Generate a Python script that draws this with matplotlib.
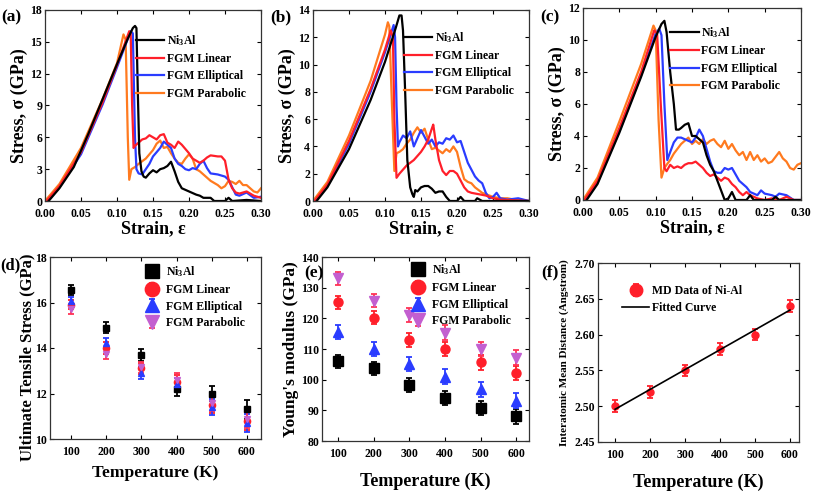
import numpy as np
import matplotlib
matplotlib.use("Agg")
import matplotlib.pyplot as plt

plt.rcParams['font.family'] = ['Liberation Serif', 'DejaVu Serif']
plt.rcParams['font.weight'] = 'bold'
plt.rcParams['axes.labelweight'] = 'bold'
plt.rcParams['mathtext.fontset'] = 'custom'
plt.rcParams['mathtext.rm'] = 'Liberation Serif:bold'
plt.rcParams['mathtext.bf'] = 'Liberation Serif:bold'
plt.rcParams['mathtext.it'] = 'Liberation Serif:bold'
plt.rcParams['mathtext.default'] = 'bf'

labels = ['Ni$_3$Al', 'FGM Linear', 'FGM Elliptical', 'FGM Parabolic']
colors = ['#000000', '#ff1f2a', '#2a3cff', '#ff7a1f']

# ---------------- (a) stress-strain ----------------
a_ni_x = [0.005,0.02,0.04,0.06,0.08,0.10,0.115,0.122,0.125,0.127,0.129,0.131,0.134,0.137,0.14,0.145,0.15,0.155,0.16,0.165,0.17,0.175,0.18,0.185,0.19,0.20,0.21,0.215,0.22,0.23,0.235,0.25,0.255,0.26,0.28,0.30]
a_ni_y = [0,1.2,3.2,6.3,9.6,12.9,15.3,16.3,16.5,16.3,10,4.5,2.8,2.3,2.2,2.6,2.9,2.7,3.0,3.1,3.3,3.7,2.8,1.8,1.2,0.9,0.6,0.5,0.3,0.3,0.0,0.0,0.3,0.0,0.1,0.0]
a_li_x = [0.002,0.02,0.05,0.08,0.10,0.117,0.119,0.121,0.123,0.125,0.13,0.135,0.14,0.145,0.15,0.155,0.16,0.165,0.17,0.175,0.18,0.185,0.19,0.195,0.20,0.205,0.21,0.215,0.22,0.225,0.23,0.24,0.245,0.25,0.255,0.26,0.265,0.27,0.28,0.29,0.30]
a_li_y = [0,1.4,4.6,9.3,12.8,16.0,15.8,9,5.0,5.2,5.5,5.8,5.9,6.2,6.0,5.8,6.2,6.3,5.5,5.3,5.0,5.6,5.3,4.9,4.5,4.0,3.8,3.6,3.8,4.1,4.3,4.2,4.2,3.8,2.0,1.2,0.8,0.7,0.9,0.5,0.3]
a_el_x = [0.004,0.02,0.05,0.08,0.10,0.119,0.122,0.125,0.127,0.13,0.135,0.14,0.145,0.15,0.155,0.16,0.165,0.17,0.175,0.18,0.185,0.19,0.195,0.20,0.205,0.21,0.215,0.22,0.225,0.23,0.24,0.25,0.255,0.26,0.265,0.27,0.28,0.29,0.30]
a_el_y = [0,1.3,4.4,9.1,12.6,16.0,15.8,6,3.0,2.6,2.5,3.0,3.5,4.2,4.6,5.0,5.6,5.3,5.0,4.0,3.5,3.3,3.0,2.9,3.1,3.0,3.5,3.8,3.1,2.6,2.5,2.3,2.0,1.3,0.6,0.5,0.8,0.3,0.4]
a_pa_x = [0.0,0.02,0.05,0.08,0.10,0.109,0.112,0.115,0.117,0.12,0.125,0.13,0.14,0.15,0.155,0.16,0.165,0.17,0.175,0.18,0.185,0.19,0.195,0.20,0.205,0.21,0.215,0.22,0.225,0.23,0.24,0.245,0.25,0.255,0.26,0.265,0.27,0.275,0.28,0.285,0.29,0.295,0.30]
a_pa_y = [0,1.6,5.0,9.6,13.0,15.7,15.2,6,2.0,3.0,3.2,3.5,4.0,4.8,5.4,5.7,5.0,5.1,4.5,4.0,3.6,3.5,4.0,4.4,4.0,3.0,2.8,2.5,2.2,1.9,1.5,1.2,1.4,1.9,1.8,1.6,1.9,1.5,1.5,1.2,0.9,0.8,1.2]

# ---------------- (b) stress-strain ----------------
b_ni_x = [0.005,0.02,0.05,0.08,0.10,0.115,0.12,0.123,0.125,0.128,0.131,0.135,0.138,0.14,0.142,0.145,0.15,0.155,0.16,0.165,0.17,0.175,0.18,0.185,0.19,0.20,0.205,0.21,0.225,0.228,0.235,0.30]
b_ni_y = [0,1.0,3.8,7.4,10.2,12.7,13.6,13.6,12.5,8,3,1.0,0.5,0.3,0.8,0.7,1.0,1.1,1.1,0.9,0.6,0.7,0.7,0.3,0.0,0.0,0.3,0.0,0.0,0.2,0.0,0.0]
b_li_x = [0.002,0.02,0.05,0.08,0.10,0.108,0.111,0.113,0.116,0.12,0.125,0.13,0.135,0.14,0.145,0.15,0.155,0.16,0.165,0.167,0.17,0.175,0.18,0.185,0.19,0.195,0.20,0.205,0.21,0.215,0.22,0.23,0.24,0.25,0.26,0.30]
b_li_y = [0,1.2,4.4,8.2,11.1,12.5,12.0,6,1.7,2.0,2.3,2.6,2.8,3.0,3.3,3.6,4.0,4.5,5.3,5.6,4.5,3.0,2.2,1.9,2.2,2.2,2.0,1.5,1.0,0.7,0.6,0.5,0.4,0.2,0.1,0.0]
b_el_x = [0.004,0.02,0.05,0.08,0.10,0.112,0.114,0.116,0.118,0.12,0.125,0.13,0.135,0.14,0.145,0.15,0.155,0.16,0.165,0.17,0.175,0.18,0.185,0.19,0.195,0.20,0.205,0.21,0.215,0.22,0.225,0.23,0.235,0.24,0.245,0.25,0.255,0.26,0.27,0.285,0.30]
b_el_y = [0,1.1,4.2,8.0,10.9,12.9,12.0,7,4.0,4.3,4.8,4.6,5.1,4.0,4.6,5.2,4.7,4.2,4.5,4.0,4.3,4.2,4.6,4.5,4.8,4.3,4.4,3.6,2.8,2.3,1.8,1.5,1.3,0.6,0.2,0.3,0.6,0.2,0.1,0.2,0.0]
b_pa_x = [0.0,0.02,0.05,0.08,0.10,0.104,0.106,0.109,0.113,0.116,0.12,0.125,0.13,0.135,0.14,0.145,0.15,0.155,0.16,0.165,0.17,0.175,0.18,0.185,0.19,0.195,0.20,0.205,0.21,0.215,0.22,0.225,0.23,0.235,0.24,0.25,0.26,0.27,0.28,0.30]
b_pa_y = [0,1.4,4.8,8.8,12.2,13.1,12.8,8,2.2,3.5,3.6,3.8,4.2,4.5,5.0,5.4,5.0,5.3,4.5,3.8,3.9,3.7,3.5,3.8,3.6,4.0,3.6,2.5,1.6,1.4,1.3,1.0,0.8,0.6,0.5,0.3,0.2,0.2,0.1,0.0]

# ---------------- (c) stress-strain ----------------
c_ni_x = [0.005,0.02,0.05,0.08,0.10,0.108,0.112,0.115,0.12,0.125,0.128,0.132,0.135,0.14,0.145,0.15,0.155,0.16,0.165,0.17,0.175,0.18,0.185,0.19,0.195,0.20,0.205,0.21,0.225,0.23,0.235,0.26,0.265,0.27,0.30]
c_ni_y = [0,1.0,4.2,7.7,10.2,11.0,11.2,10.5,8,6,4.4,4.4,4.5,4.7,4.8,4.0,4.0,3.8,3.6,2.8,2.2,1.8,1.2,0.6,0.0,0.1,0.5,0.0,0.0,0.3,0.0,0.0,0.2,0.0,0.0]
c_li_x = [0.002,0.02,0.05,0.08,0.098,0.102,0.107,0.112,0.115,0.12,0.125,0.13,0.135,0.14,0.145,0.15,0.155,0.16,0.165,0.17,0.175,0.18,0.185,0.19,0.195,0.20,0.205,0.21,0.215,0.22,0.225,0.23,0.24,0.25,0.26,0.27,0.28,0.29,0.30]
c_li_y = [0,1.2,4.5,8.0,10.6,10.4,6,2.0,1.8,2.2,2.0,2.1,2.0,2.2,2.3,2.3,2.4,2.2,2.0,1.7,1.5,1.6,1.4,1.2,1.4,1.3,1.0,0.8,0.5,0.3,0.5,0.3,0.1,0.0,0.1,0.0,0.2,0.0,0.0]
c_el_x = [0.004,0.02,0.05,0.08,0.10,0.105,0.108,0.112,0.116,0.12,0.125,0.13,0.135,0.14,0.145,0.15,0.155,0.16,0.165,0.17,0.175,0.18,0.185,0.19,0.195,0.20,0.205,0.21,0.215,0.22,0.225,0.23,0.235,0.24,0.245,0.25,0.26,0.265,0.27,0.28,0.29,0.30]
c_el_y = [0,1.1,4.3,7.8,10.4,10.7,10.3,6,2.5,3.0,3.6,3.9,3.9,3.8,3.7,3.6,3.9,4.4,4.0,3.2,2.4,1.8,1.7,1.7,2.0,1.9,2.0,1.6,1.2,1.0,0.8,0.5,0.4,0.3,0.6,0.4,0.3,0.2,0.4,0.3,0.0,0.0]
c_pa_x = [0.0,0.02,0.05,0.08,0.097,0.100,0.104,0.108,0.112,0.115,0.12,0.125,0.13,0.135,0.14,0.145,0.15,0.155,0.16,0.165,0.17,0.175,0.18,0.185,0.19,0.195,0.20,0.205,0.21,0.215,0.22,0.225,0.23,0.235,0.24,0.245,0.25,0.255,0.26,0.265,0.27,0.275,0.28,0.285,0.29,0.295,0.30]
c_pa_y = [0,1.4,4.9,8.5,10.9,10.6,5,1.4,2.0,2.2,2.5,2.9,3.2,3.5,3.7,3.9,3.5,3.7,3.5,3.8,3.5,3.7,3.8,3.5,3.3,3.7,3.2,3.5,3.1,2.8,3.0,2.5,3.0,2.5,2.8,2.4,2.6,2.3,2.4,2.7,3.0,2.6,2.4,2.0,1.9,2.2,2.3]

# ---------------- (d) UTS ----------------
temps = [100, 200, 300, 400, 500, 600]
uts_ni = [16.55, 14.9, 13.7, 12.2, 12.0, 11.3]
uts_li = [15.9, 14.0, 13.1, 12.5, 11.5, 10.8]
uts_el = [16.05, 14.2, 12.9, 12.4, 11.4, 10.7]
uts_pa = [15.7, 13.75, 13.15, 12.6, 11.6, 10.9]
uts_ni_err = [0.2, 0.25, 0.25, 0.3, 0.35, 0.4]
uts_li_err = [0.2, 0.25, 0.25, 0.3, 0.35, 0.4]
uts_el_err = [0.2, 0.25, 0.25, 0.3, 0.35, 0.4]
uts_pa_err = [0.2, 0.25, 0.25, 0.3, 0.35, 0.4]

# ---------------- (e) Young's modulus ----------------
ym_ni = [106.0, 103.7, 98.2, 94.0, 90.8, 88.0]
ym_li = [125.2, 120.2, 112.8, 110.0, 105.6, 102.2]
ym_el = [115.5, 110.0, 105.0, 101.0, 96.8, 93.2]
ym_pa = [133.0, 125.8, 121.0, 115.3, 110.0, 107.2]
ym_err = [2.2, 2.2, 2.3, 2.4, 2.4, 2.4]

# ---------------- (f) interatomic distance ----------------
dist = [2.50, 2.52, 2.55, 2.58, 2.60, 2.64]
dist_err = [0.008, 0.008, 0.008, 0.008, 0.008, 0.008]

W, H = 813, 491
fig = plt.figure(figsize=(W/100, H/100), dpi=100)

def ax_px(l, t, r, b):
    return fig.add_axes([l/W, 1-b/H, (r-l)/W, (b-t)/H])

def style(ax):
    ax.tick_params(direction='in', top=True, right=True, length=3, width=0.8,
                   labelsize=8.5)
    ax.tick_params(axis='x', pad=5)
    ax.tick_params(axis='y', pad=2)
    for s in ax.spines.values():
        s.set_linewidth(0.9)
        s.set_color('#333333')
    for t in ax.get_xticklabels() + ax.get_yticklabels():
        t.set_fontweight('bold')

axA = ax_px(45, 10, 261, 201)
axB = ax_px(313, 10, 529, 201)
axC = ax_px(583, 8, 801, 200)
axD = ax_px(50, 257, 261, 439)
axE = ax_px(322, 257, 529, 441)
axF = ax_px(598, 263, 799, 442)

curves = {
    axA: [(a_ni_x, a_ni_y), (a_li_x, a_li_y), (a_el_x, a_el_y), (a_pa_x, a_pa_y)],
    axB: [(b_ni_x, b_ni_y), (b_li_x, b_li_y), (b_el_x, b_el_y), (b_pa_x, b_pa_y)],
    axC: [(c_ni_x, c_ni_y), (c_li_x, c_li_y), (c_el_x, c_el_y), (c_pa_x, c_pa_y)],
}
ylims = {axA: (0, 18, 3), axB: (0, 14, 2), axC: (0, 12, 2)}
leg_anchor = {axA: (0.42, 0.88), axB: (0.42, 0.895), axC: (0.40, 0.91)}
order = [3, 2, 1, 0]
for ax, cl in curves.items():
    lines = [None]*4
    for i in order:
        x, y = cl[i]
        lines[i], = ax.plot(x, y, color=colors[i], lw=1.6, label=labels[i])
    lo, hi, st = ylims[ax]
    ax.set_ylim(lo, hi)
    ax.set_yticks(np.arange(lo, hi+0.1, st))
    ax.set_xlim(0, 0.30)
    ax.set_xticks(np.arange(0, 0.301, 0.05))
    ax.set_xticklabels([f'{v:.2f}' for v in np.arange(0, 0.301, 0.05)])
    ax.set_xlabel('Strain, ε', fontsize=13, labelpad=0)
    ax.set_ylabel('Stress, σ (GPa)', fontsize=13, labelpad=2)
    style(ax)
    ax.legend(lines, labels, loc='upper left', bbox_to_anchor=leg_anchor[ax],
              frameon=False, handlelength=2.4, handletextpad=0.25,
              labelspacing=0.45, borderpad=0, borderaxespad=0,
              prop={'weight': 'bold', 'size': 8.5})

# (d)
mk = ['s', 'o', '^', 'v']
mcol = ['#000000', '#ff1f2a', '#2a3cff', '#c35fd0']
ecol = ['#000000', '#ff1f2a', '#2a3cff', '#ff3355']
d_sets = [(uts_ni, uts_ni_err), (uts_li, uts_li_err), (uts_el, uts_el_err), (uts_pa, uts_pa_err)]
hs = []
for i, (v, e) in enumerate(d_sets):
    h = axD.errorbar(temps, v, yerr=e, fmt=mk[i], color=mcol[i], ecolor=ecol[i],
                     ms=4.5, elinewidth=1.3, capsize=2, capthick=1.3, label=labels[i])
    hs.append(h)
axD.set_xlim(40, 640)
axD.set_ylim(10, 18)
axD.set_xticks(temps)
axD.set_yticks([10, 12, 14, 16, 18])
axD.set_xlabel('Temperature (K)', fontsize=12.5, labelpad=5)
axD.set_ylabel('Ultimate Tensile Stress (GPa)', fontsize=12, labelpad=0)
axD.yaxis.set_label_coords(-0.068, 0.45)
style(axD)
axD.legend(hs, labels, loc='upper left', bbox_to_anchor=(0.45, 0.96), frameon=False,
           markerscale=2.3, handlelength=1.2, handletextpad=0.6, labelspacing=0.4,
           borderpad=0, borderaxespad=0, prop={'weight': 'bold', 'size': 8.5})

# (e)
e_sets = [ym_ni, ym_li, ym_el, ym_pa]
hs = []
for i, v in enumerate(e_sets):
    h = axE.errorbar(temps, v, yerr=ym_err, fmt=mk[i], color=mcol[i], ecolor=ecol[i],
                     ms=6.5, elinewidth=1.3, capsize=2, capthick=1.3, label=labels[i])
    hs.append(h)
axE.set_xlim(55, 636)
axE.set_ylim(80, 140)
axE.set_xticks(temps)
axE.set_yticks(np.arange(80, 141, 10))
axE.set_xlabel('Temperature (K)', fontsize=13, labelpad=9)
axE.set_ylabel("Young's modulus (GPa)", fontsize=12.5, labelpad=2)
style(axE)
axE.legend(hs, labels, loc='upper left', bbox_to_anchor=(0.43, 0.97), frameon=False,
           markerscale=1.6, handlelength=1.2, handletextpad=0.6, labelspacing=0.4,
           borderpad=0, borderaxespad=0, prop={'weight': 'bold', 'size': 8.5})

# (f)
coef = np.polyfit(temps, dist, 1)
fit_x = np.array([temps[0], temps[-1]])
hf = axF.errorbar(temps, dist, yerr=dist_err, fmt='o', color='#ff1f2a', ecolor='#ff1f2a',
                  ms=5, elinewidth=1.3, capsize=2, capthick=1.3, label='MD Data of Ni-Al', zorder=3)
hl, = axF.plot(fit_x, np.polyval(coef, fit_x), color='black', lw=1.2, label='Fitted Curve', zorder=4)
axF.set_xlim(51, 626)
axF.set_ylim(2.45, 2.70)
axF.set_xticks(temps)
axF.set_yticks(np.arange(2.45, 2.701, 0.05))
axF.set_yticklabels([f'{v:.2f}' for v in np.arange(2.45, 2.701, 0.05)])
axF.set_xlabel('Temperature (K)', fontsize=13, labelpad=9)
axF.set_ylabel('Interatomic Mean Distance (Angstrom)', fontsize=8, labelpad=4)
style(axF)
axF.legend([hf, hl], ['MD Data of Ni-Al', 'Fitted Curve'], loc='upper left',
           bbox_to_anchor=(0.12, 0.875), frameon=False, markerscale=1.8,
           handlelength=2.3, handletextpad=0.2, labelspacing=0.4,
           borderpad=0, borderaxespad=0, prop={'weight': 'bold', 'size': 8.5})

# panel labels
for txt, x, y, fs in [('(a)', 1, 17, 12.5), ('(b)', 270, 17, 12.5), ('(c)', 540, 17, 12.5),
                      ('(d)', 0, 265, 12), ('(e)', 304, 273, 12.5), ('(f)', 541, 272, 12.5)]:
    fig.text(x/W, 1-y/H, txt, fontsize=fs, fontweight='bold', ha='left', va='center')

fig.savefig('out.png', dpi=100)
